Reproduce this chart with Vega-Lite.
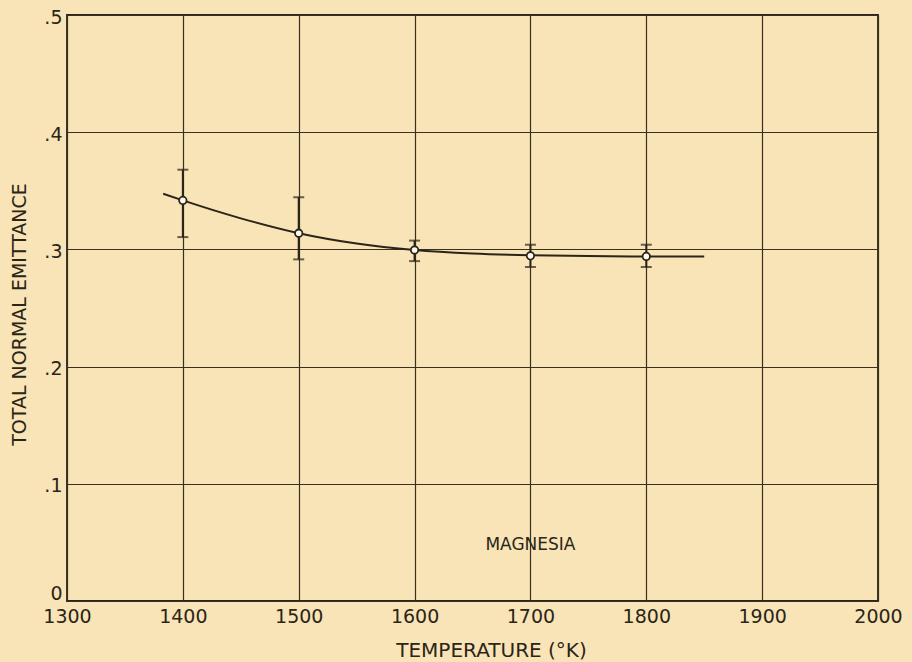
{
  "$schema": "https://vega.github.io/schema/vega-lite/v6.json",
  "autosize": "none",
  "width": 811,
  "height": 586,
  "padding": {"left": 67, "top": 15, "right": 34, "bottom": 61},
  "background": "#f8e4b6",
  "config": {
    "view": {"stroke": "#2b2418", "strokeWidth": 1.8, "fill": "#f8e4b6"},
    "font": "DejaVu Sans",
    "axis": {
      "grid": true,
      "gridColor": "#3a3020",
      "gridOpacity": 1,
      "gridWidth": 1.2,
      "ticks": false,
      "domain": false,
      "labelColor": "#2b2418",
      "titleColor": "#2b2418",
      "labelFont": "DejaVu Sans",
      "titleFont": "DejaVu Sans",
      "labelFontSize": 19,
      "titleFontSize": 19,
      "titleFontWeight": "normal"
    }
  },
  "datasets": {
    "points": [
      {"temp": 1400, "e": 0.3418, "lo": 0.3105, "hi": 0.368},
      {"temp": 1500, "e": 0.3138, "lo": 0.2915, "hi": 0.3445},
      {"temp": 1600, "e": 0.2995, "lo": 0.290, "hi": 0.3075},
      {"temp": 1700, "e": 0.2945, "lo": 0.285, "hi": 0.304},
      {"temp": 1800, "e": 0.294, "lo": 0.285, "hi": 0.304}
    ],
    "curve": [
      {"temp": 1383, "e": 0.3475},
      {"temp": 1400, "e": 0.3418},
      {"temp": 1450, "e": 0.3265},
      {"temp": 1500, "e": 0.3138},
      {"temp": 1550, "e": 0.305},
      {"temp": 1600, "e": 0.2995},
      {"temp": 1650, "e": 0.2965},
      {"temp": 1700, "e": 0.295},
      {"temp": 1750, "e": 0.2943},
      {"temp": 1800, "e": 0.294},
      {"temp": 1850, "e": 0.294}
    ],
    "label": [
      {"temp": 1700, "e": 0.048, "text": "MAGNESIA"}
    ]
  },
  "layer": [
    {
      "data": {"name": "curve"},
      "mark": {"type": "line", "interpolate": "monotone", "color": "#2b2418", "strokeWidth": 2},
      "encoding": {
        "x": {
          "field": "temp", "type": "quantitative",
          "scale": {"domain": [1300, 2000], "nice": false, "zero": false},
          "axis": {"values": [1300, 1400, 1500, 1600, 1700, 1800, 1900, 2000], "format": "d", "title": "TEMPERATURE (°K)", "labelPadding": 6, "labelBaseline": "top", "labelFlush": false, "titleX": 424, "titleY": 55, "titleBaseline": "alphabetic", "titleAnchor": null, "titleAlign": "center", "titleFontSize": 20}
        },
        "y": {
          "field": "e", "type": "quantitative",
          "scale": {"domain": [0, 0.5], "nice": false},
          "axis": {"values": [0, 0.1, 0.2, 0.3, 0.4, 0.5], "labelExpr": "datum.value == 0 ? '0' : replace(format(datum.value, '.1f'), '0.', '.')", "title": "TOTAL NORMAL EMITTANCE", "labelPadding": 5, "labelBaseline": {"condition": {"test": "datum.value == 0", "value": "bottom"}, "value": "middle"}, "labelOffset": 2, "labelFlush": false, "titleX": -48, "titleY": 299, "titleAngle": -90, "titleBaseline": "middle", "titleAlign": "center", "titleFontSize": 19}
        }
      }
    },
    {
      "data": {"name": "points"},
      "mark": {"type": "rule", "color": "#2b2418", "strokeWidth": 2},
      "encoding": {
        "x": {"field": "temp", "type": "quantitative"},
        "y": {"field": "lo", "type": "quantitative"},
        "y2": {"field": "hi"}
      }
    },
    {
      "data": {"name": "points"},
      "mark": {"type": "tick", "orient": "horizontal", "color": "#2b2418", "size": 11, "thickness": 2},
      "encoding": {
        "x": {"field": "temp", "type": "quantitative"},
        "y": {"field": "lo", "type": "quantitative"}
      }
    },
    {
      "data": {"name": "points"},
      "mark": {"type": "tick", "orient": "horizontal", "color": "#2b2418", "size": 11, "thickness": 2},
      "encoding": {
        "x": {"field": "temp", "type": "quantitative"},
        "y": {"field": "hi", "type": "quantitative"}
      }
    },
    {
      "data": {"name": "points"},
      "mark": {"type": "point", "shape": "circle", "filled": false, "fill": "#fffaf0", "fillOpacity": 1, "stroke": "#2b2418", "strokeWidth": 1.8, "size": 55, "opacity": 1},
      "encoding": {
        "x": {"field": "temp", "type": "quantitative"},
        "y": {"field": "e", "type": "quantitative"}
      }
    },
    {
      "data": {"name": "label"},
      "mark": {"type": "text", "font": "DejaVu Sans", "fontSize": 17, "color": "#2b2418", "fill": "#2b2418"},
      "encoding": {
        "x": {"field": "temp", "type": "quantitative"},
        "y": {"field": "e", "type": "quantitative"},
        "text": {"field": "text"}
      }
    }
  ]
}
